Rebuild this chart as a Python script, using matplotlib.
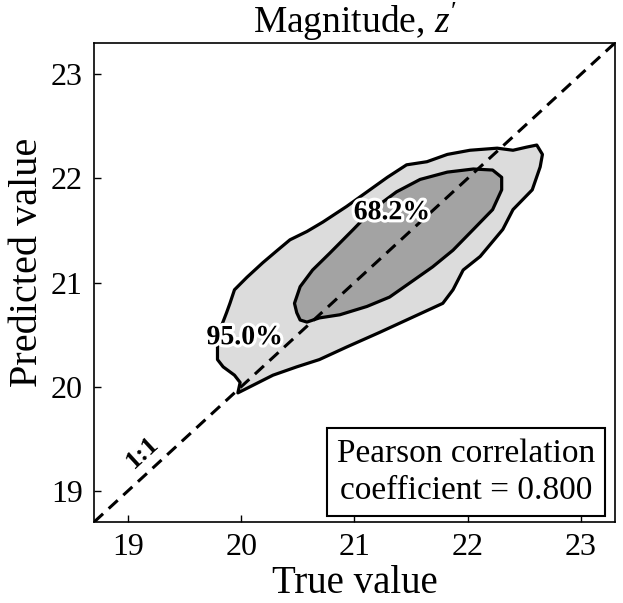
import numpy as np
import matplotlib
matplotlib.use("Agg")
import matplotlib.pyplot as plt
import matplotlib.patheffects as pe

plt.rcParams["font.family"] = ["Liberation Serif", "DejaVu Serif"]
plt.rcParams["mathtext.fontset"] = "custom"
plt.rcParams["mathtext.it"] = "Liberation Serif:italic"
plt.rcParams["mathtext.rm"] = "Liberation Serif"

# outline of the 95.0% density region (true, predicted)
outer_true = [19.97, 20.28, 20.49, 20.69, 20.93, 21.22, 21.52, 21.78, 21.87, 21.96,
              22.11, 22.31, 22.40, 22.57, 22.64, 22.66, 22.61, 22.52, 22.40, 22.26,
              22.02, 21.82, 21.64, 21.46, 21.29, 21.11, 20.93, 20.72, 20.58, 20.43,
              20.32, 20.19, 20.05, 19.94, 19.90, 19.87, 19.81, 19.79, 19.79, 19.84,
              19.94, 19.99]
outer_pred = [19.94, 20.11, 20.19, 20.26, 20.38, 20.52, 20.67, 20.80, 20.93, 21.12,
              21.25, 21.51, 21.70, 21.89, 22.11, 22.23, 22.32, 22.30, 22.27, 22.29,
              22.27, 22.23, 22.16, 22.13, 22.01, 21.87, 21.73, 21.58, 21.49, 21.41,
              21.31, 21.19, 21.05, 20.93, 20.80, 20.71, 20.54, 20.38, 20.26, 20.19,
              20.11, 20.04]

# outline of the 68.2% density region
inner_true = [20.52, 20.58, 20.69, 20.87, 21.11, 21.31, 21.52, 21.69, 21.87, 22.05,
              22.22, 22.30, 22.30, 22.22, 22.05, 21.82, 21.58, 21.37, 21.16, 20.99,
              20.78, 20.63, 20.52, 20.47, 20.49]
inner_pred = [20.64, 20.62, 20.66, 20.69, 20.77, 20.86, 21.02, 21.15, 21.31, 21.51,
              21.70, 21.89, 22.01, 22.08, 22.09, 22.06, 21.99, 21.87, 21.70, 21.51,
              21.28, 21.12, 20.96, 20.80, 20.71]

levels = ["95.0%", "68.2%"]
level_label_pos = [(20.03, 20.47), (21.33, 21.67)]
pearson_r = 0.800
lims = (18.7, 23.3)
ticks = [19, 20, 21, 22, 23]

fig = plt.figure(figsize=(6.23, 6.03), dpi=100)
ax = fig.add_axes([0.151, 0.1343, 0.836, 0.7944])

ax.fill(outer_true, outer_pred, facecolor="#dcdcdc", edgecolor="black",
        linewidth=2.3, joinstyle="round", zorder=2)
ax.fill(inner_true, inner_pred, facecolor="#a3a3a3", edgecolor="black",
        linewidth=2.3, joinstyle="round", zorder=3)

ax.plot(lims, lims, color="black", linestyle=(0, (4, 2.5)), linewidth=2.2, zorder=4)

stroke = [pe.withStroke(linewidth=4.5, foreground="white")]
for lab, (lx, ly) in zip(levels, level_label_pos):
    ax.text(lx, ly, lab, fontsize=20, fontweight="bold", ha="center", va="center",
            path_effects=stroke, zorder=5)

ax.text(19.13, 19.37, "1:1", fontsize=19, fontweight="bold", rotation=42.6,
        ha="center", va="center", rotation_mode="anchor", zorder=5)

ax.text(0.962, 0.033, "Pearson correlation\ncoefficient = %.3f" % pearson_r,
        transform=ax.transAxes, ha="right", va="bottom", fontsize=24,
        multialignment="center", linespacing=1.3, zorder=6,
        bbox=dict(boxstyle="square,pad=0.3", facecolor="white",
                  edgecolor="black", linewidth=1.5))

ax.set_xlim(lims)
ax.set_ylim(lims)
ax.set_xticks(ticks)
ax.set_yticks(ticks)
ax.tick_params(direction="in", length=5, width=1, labelsize=23, pad=8,
               top=False, right=False)
for sp in ax.spines.values():
    sp.set_linewidth(1.2)

ax.set_xlabel("True value", fontsize=28, labelpad=2)
ax.set_ylabel("Predicted value", fontsize=29)
ax.yaxis.set_label_coords(-0.092, 0.543)
ax.set_title("Magnitude, $z'$", fontsize=27, pad=3)

fig.savefig("out.png", dpi=100)
